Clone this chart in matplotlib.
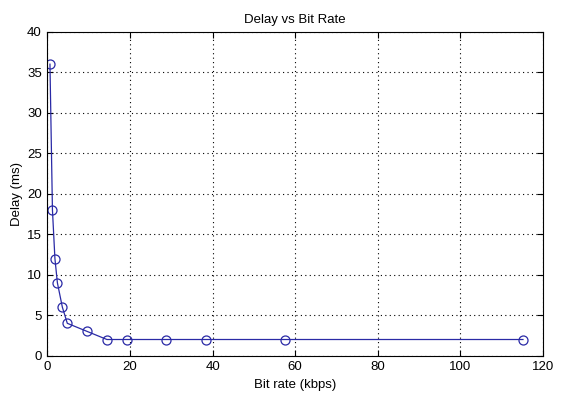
import matplotlib
matplotlib.use("Agg")
import matplotlib.pyplot as plt

bit_rate_kbps = [0.6, 1.2, 1.8, 2.4, 3.6, 4.8, 9.6, 14.4, 19.2, 28.8, 38.4, 57.6, 115.2]
delay_ms = [36, 18, 12, 9, 6, 4, 3, 2, 2, 2, 2, 2, 2]
x_ticks = [0, 20, 40, 60, 80, 100, 120]
y_ticks = [0, 5, 10, 15, 20, 25, 30, 35, 40]

plt.rcParams['font.family'] = ['Liberation Sans', 'DejaVu Sans']

fig = plt.figure(figsize=(5.68, 3.95), dpi=100)
ax = fig.add_axes([0.0836, 0.0995, 0.872, 0.820])
color = '#2a2aa6'
ax.plot(bit_rate_kbps, delay_ms, '-', color=color, lw=0.9,
        marker='o', markersize=6.5, markerfacecolor='none',
        markeredgecolor=color, markeredgewidth=0.9)
ax.set_xlim(0, 120)
ax.set_ylim(0, 40)
ax.set_xticks(x_ticks)
ax.set_yticks(y_ticks)
ax.grid(True, linestyle=(0, (1, 3)), color='black', lw=0.8)
ax.tick_params(direction='in', top=True, right=True, labelsize=9.5, length=4, width=0.8, pad=4)
for s in ax.spines.values():
    s.set_linewidth(0.8)
ax.set_xlabel('Bit rate (kbps)', fontsize=9.5, labelpad=4)
ax.set_ylabel('Delay (ms)', fontsize=9.5, labelpad=3)
ax.set_title('Delay vs Bit Rate', fontsize=9.5, pad=6)
fig.savefig('out.png', dpi=100)
